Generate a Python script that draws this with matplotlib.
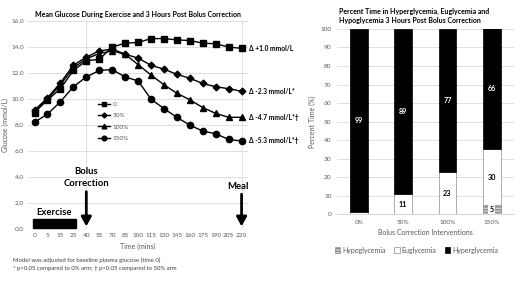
import matplotlib
matplotlib.use("Agg")
import matplotlib.pyplot as plt
import numpy as np

plt.rcParams['font.family'] = ['Lato', 'DejaVu Sans']

# --- left chart data ---
time_labels = ["0", "5", "15", "25", "40", "55", "70", "85", "100", "115", "130",
               "145", "160", "175", "190", "205", "220"]
arm_names = ["0", "50%", "100%", "150%"]
glucose_0 = [8.97, 9.93, 10.8, 12.2, 12.95, 13.05, 14.0, 14.3, 14.35, 14.65, 14.65,
             14.55, 14.5, 14.3, 14.25, 14.0, 13.9]
glucose_50 = [9.15, 10.1, 11.25, 12.6, 13.23, 13.7, 13.85, 13.45, 13.15, 12.6, 12.3,
              11.9, 11.6, 11.2, 10.95, 10.8, 10.6]
glucose_100 = [9.1, 10.0, 11.1, 12.4, 13.1, 13.5, 13.7, 13.45, 12.65, 11.85, 11.1,
               10.45, 9.95, 9.35, 8.9, 8.6, 8.6]
glucose_150 = [8.23, 8.84, 9.8, 10.95, 11.7, 12.2, 12.27, 11.7, 11.4, 10.0, 9.27,
               8.6, 8.0, 7.54, 7.34, 6.9, 6.78]
delta_labels = ["\u0394 +1.0 mmol/L", "\u0394 -2.3 mmol/L*", "\u0394 -4.7 mmol/L*\u2020",
                "\u0394 -5.3 mmol/L*\u2020"]

# --- right chart data ---
interventions = ["0%", "50%", "100%", "150%"]
hypo = [0, 0, 0, 5]
eu = [1, 11, 23, 30]
hyper = [99, 89, 77, 66]

fig = plt.figure(figsize=(5.2, 2.92), dpi=100)
fig.patch.set_facecolor("white")

grid_c = "#d9d9d9"
tick_c = "#595959"

# ---------------- left: glucose curves ----------------
ax = fig.add_axes([0.054, 0.215, 0.423, 0.713])
x = np.arange(len(time_labels))
series = [glucose_0, glucose_50, glucose_100, glucose_150]
markers = ["s", "D", "^", "o"]
msizes = [4.5, 3.4, 4.5, 4.5]
for vals, m, ms, name in zip(series, markers, msizes, arm_names):
    ax.plot(x, vals, color="black", lw=1.0, marker=m, ms=ms, label=name)

for vals, lab in zip(series, delta_labels):
    ax.text(len(x) - 1 + 0.55, vals[-1], lab, fontsize=4.8, fontweight="bold",
            va="center", ha="left", clip_on=False)

ax.set_xlim(-0.5, len(x) - 0.5)
ax.set_ylim(0, 16)
ax.set_yticks(np.arange(0, 16.1, 2))
ax.set_yticklabels([f"{v:.1f}" for v in np.arange(0, 16.1, 2)])
ax.set_xticks(x)
ax.set_xticklabels(time_labels)
ax.tick_params(labelsize=4.6, colors=tick_c, length=0, pad=3)
ax.grid(axis="y", color=grid_c, lw=0.6)
ax.axvline(4, color=grid_c, lw=0.6, zorder=0)
ax.axvline(16, color=grid_c, lw=0.6, zorder=0)
ax.set_axisbelow(True)
for s in ax.spines.values():
    s.set_visible(False)
ax.set_xlabel("Time (mins)", fontsize=5, color=tick_c, labelpad=3)
ax.set_ylabel("Glucose (mmol/L)", fontsize=5, color=tick_c, labelpad=2)
ax.set_title("Mean Glucose During Exercise and 3 Hours Post Bolus Correction",
             fontsize=5.0, fontweight="bold", pad=3)

leg = ax.legend(loc="upper left", bbox_to_anchor=(0.29, 0.64), frameon=False,
                fontsize=4.6, handlelength=2.0, labelspacing=0.9, handletextpad=0.3,
                markerscale=0.75)
for t in leg.get_texts():
    t.set_color(tick_c)

# exercise block and arrows
ax.add_patch(plt.Rectangle((-0.1, 0.12), 3.3, 0.65, color="black", clip_on=False))
ax.text(0.15, 1.3, "Exercise", fontsize=6.8, fontweight="bold", va="center", ha="left")
ax.annotate("", xy=(4, 0.0), xytext=(4, 3.1),
            arrowprops=dict(arrowstyle="-|>,head_width=0.3,head_length=0.55",
                            lw=2.0, color="black", mutation_scale=10))
ax.text(4, 4.45, "Bolus", fontsize=6.8, fontweight="bold", ha="center", va="center")
ax.text(4, 3.55, "Correction", fontsize=6.8, fontweight="bold", ha="center", va="center")
ax.annotate("", xy=(16, 0.0), xytext=(16, 2.9),
            arrowprops=dict(arrowstyle="-|>,head_width=0.3,head_length=0.55",
                            lw=2.0, color="black", mutation_scale=10))
ax.text(15.75, 3.3, "Meal", fontsize=6.8, fontweight="bold", ha="center", va="center")

fig.text(0.025, 0.104, "Model was adjusted for baseline plasma glucose (time 0)",
         fontsize=4.3, color="#404040")
fig.text(0.025, 0.075, "* p<0.05 compared to 0% arm; \u2020 p<0.05 compared to 50% arm",
         fontsize=4.3, color="#404040")

# ---------------- right: stacked bars ----------------
ax2 = fig.add_axes([0.648, 0.266, 0.340, 0.635])
xb = np.arange(len(interventions))
w = 0.4
ax2.bar(xb, hypo, w, color="#d0d0d0", edgecolor="#8c8c8c", hatch="------",
        lw=0.5, label="Hypoglycemia")
ax2.bar(xb, eu, w, bottom=hypo, color="white", edgecolor="#8c8c8c", lw=0.5,
        label="Euglycemia")
bottom3 = [a + b for a, b in zip(hypo, eu)]
ax2.bar(xb, hyper, w, bottom=bottom3, color="black", edgecolor="black", lw=0.5,
        label="Hyperglycemia")

for i in range(len(xb)):
    if hyper[i] > 0:
        ax2.text(xb[i], bottom3[i] + hyper[i] / 2, str(hyper[i]),
                 color="white", fontsize=5.2, fontweight="bold", ha="center", va="center")
    if eu[i] > 5:
        ax2.text(xb[i], hypo[i] + eu[i] / 2, str(eu[i]), color="black", fontsize=5.2,
                 fontweight="bold", ha="center", va="center")
    if hypo[i] > 0:
        ax2.text(xb[i], hypo[i] / 2, str(hypo[i]), color="black", fontsize=5.2,
                 fontweight="bold", ha="center", va="center",
                 bbox=dict(facecolor="white", edgecolor="none", pad=0.8))

ax2.set_xlim(-0.5, len(xb) - 0.5)
ax2.set_ylim(0, 100)
ax2.set_yticks(np.arange(0, 101, 10))
ax2.set_xticks(xb)
ax2.set_xticklabels(interventions)
ax2.tick_params(labelsize=4.6, colors=tick_c, length=0, pad=4)
ax2.grid(axis="y", color=grid_c, lw=0.6)
ax2.set_axisbelow(True)
for s in ax2.spines.values():
    s.set_visible(False)
ax2.spines["bottom"].set_visible(True)
ax2.spines["bottom"].set_color(grid_c)
ax2.set_ylabel("Percent Time (%)", fontsize=5, color=tick_c, labelpad=3)
ax2.set_xlabel("Bolus Correction Interventions", fontsize=5, color=tick_c, labelpad=3)
ax2.text(0.01, 1.025, "Percent Time in Hyperglycemia, Euglycemia and\n"
         "Hypoglycemia 3 Hours Post Bolus Correction", transform=ax2.transAxes,
         fontsize=5.0, fontweight="bold", ha="left", va="bottom", linespacing=1.35)

leg2 = ax2.legend(loc="upper center", bbox_to_anchor=(0.45, -0.14), ncol=3, frameon=False,
                  fontsize=5, handlelength=0.8, handleheight=0.8, handletextpad=0.3,
                  columnspacing=1.2)
for t in leg2.get_texts():
    t.set_color(tick_c)

fig.savefig("out.png", dpi=100)
